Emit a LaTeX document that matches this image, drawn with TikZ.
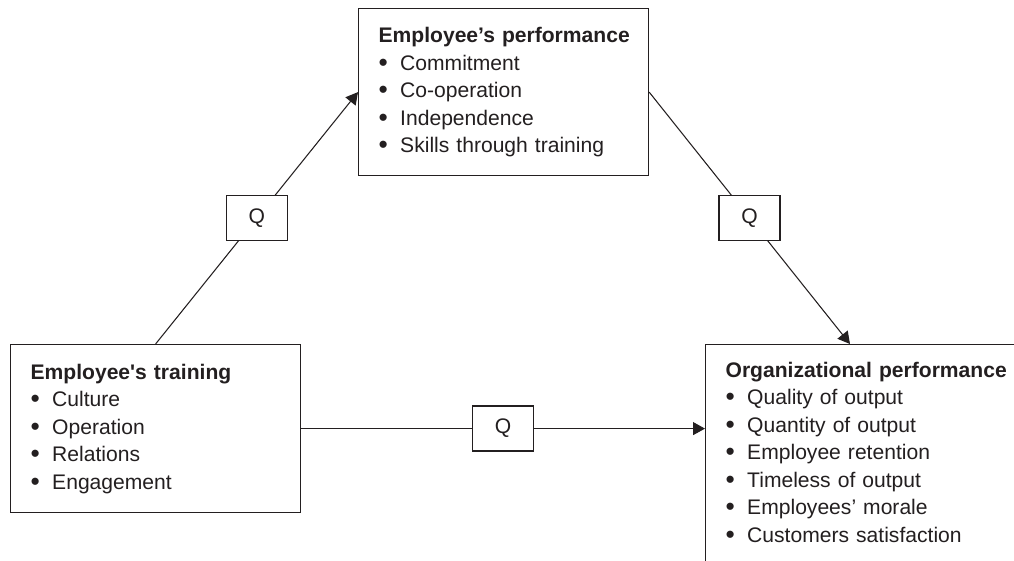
\documentclass[tikz,border=0pt]{standalone}
\usepackage{fontspec}
\setmainfont{Liberation Sans}
\usetikzlibrary{arrows.meta,positioning,calc}
\definecolor{ink}{HTML}{231F20}
\tikzset{
  every node/.append style = {text=ink},
  % --- the three blocks ---------------------------------------------------
  listbox/.style = {draw=ink, line width=0.7pt, anchor=north west,
                    font=\fontsize{12}{15.65}\selectfont, align=left,
                    inner xsep=0.4cm, text width=5cm, minimum width=5.8cm},
  % --- the Q markers on the links -----------------------------------------
  qbox/.style    = {draw=ink, fill=white, line width=0.7pt,
                    font=\fontsize{12}{14}\selectfont,
                    minimum width=1.22cm, minimum height=0.9cm, inner sep=0pt},
  link/.style    = {draw=ink, line width=0.6pt,
                    -{Triangle[length=2.4mm,width=2.6mm]}},
}
\newcommand{\bul}{\makebox[12.3pt][l]{\raisebox{-0.6pt}{\fontsize{15}{15}\selectfont\textbullet}}}
\newcommand{\head}[1]{\mbox{\bfseries #1}}

\begin{document}
\begin{tikzpicture}[x=0.02cm, y=-0.02cm]
\useasboundingbox (0,0) rectangle (1014,561);

% ================================ blocks ===================================
\node[listbox, minimum height=3.34cm, inner ysep=0pt] (perf) at (358,8)
  {\head{Employee’s performance}\\
   \bul Commitment\\
   \bul Co-operation\\
   \bul Independence\\
   \bul Skills through training};

\node[listbox, minimum height=3.36cm, inner ysep=0pt] (train) at (10,344)
  {\head{Employee\textquotesingle s training}\\
   \bul Culture\\
   \bul Operation\\
   \bul Relations\\
   \bul Engagement};

% runs past the right and bottom edges (empty last line pads it down)
\node[listbox, text width=5.8cm, minimum width=6.6cm, inner ysep=0.35cm]
      (org) at (705,344)
  {\head{Organizational performance}\\
   \bul Quality of output\\
   \bul Quantity of output\\
   \bul Employee retention\\
   \bul Timeless of output\\
   \bul Employees’ morale\\
   \bul Customers satisfaction\\[6pt]
   \mbox{}};

\coordinate (orgin) at ($(org.north west)+(145,0)$);

% ================================ links ====================================
\draw[link] (train.north) -- node[qbox] (q1) {Q} (perf.west);
\draw[link] (perf.east)   -- node[qbox] (q2) {Q} (orgin);
\draw[link] (train.east)  -- node[qbox] (q3) {Q} (train.east -| org.west);

\end{tikzpicture}
\end{document}
